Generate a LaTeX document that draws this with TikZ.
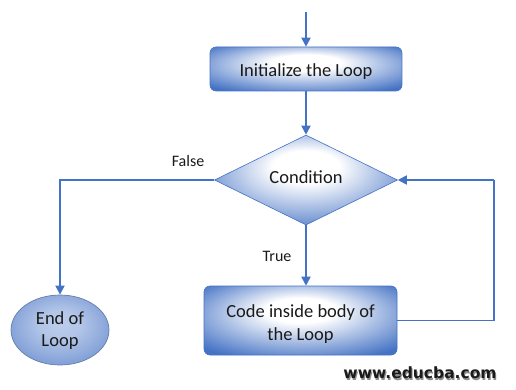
\documentclass[tikz,border=0pt]{standalone}
\usepackage{fontspec}
\setmainfont{Carlito}
\newfontfamily\webfont{DejaVu Sans}
\usetikzlibrary{shapes.geometric,arrows.meta}
\definecolor{eblue}{HTML}{4472C4}
\definecolor{lineblue}{HTML}{4472C4}
\definecolor{ellin}{HTML}{BCCDEB}
\definecolor{ellout}{HTML}{7E9DD6}
\definecolor{txt}{HTML}{1A1A1A}
\pgfdeclareradialshading{boxshade}{\pgfpoint{0bp}{9bp}}{color(0bp)=(white); color(9bp)=(white); color(34bp)=(eblue); color(50bp)=(eblue)}
\pgfdeclareradialshading{ellshade}{\pgfpoint{0bp}{5bp}}{color(0bp)=(ellin); color(10bp)=(ellin!85!ellout); color(28bp)=(ellout); color(50bp)=(ellout)}
\newcommand{\shiftv}[2]{\raisebox{#1}[\height][\depth]{#2}}
\newcommand{\twolines}[2]{\begin{tabular}{@{}c@{}}#1\\#2\end{tabular}}
\tikzset{
  flowbox/.style={rectangle, rounded corners=6pt, shading=boxshade, draw=eblue, line width=0.6pt, inner sep=0pt, text=txt, font=\fontsize{18.5}{22.5}\selectfont, align=center},
  decide/.style={diamond, shading=boxshade, draw=eblue, line width=0.6pt, inner sep=0pt, text=txt, font=\fontsize{18.5}{22.5}\selectfont, minimum width=183pt, minimum height=90pt},
  endnode/.style={ellipse, shading=ellshade, draw=ellout!80!black, line width=0.7pt, inner sep=0pt, text=txt, font=\fontsize{18.5}{22}\selectfont, align=center, minimum width=98pt, minimum height=70pt},
  conn/.style={draw=lineblue, line width=1.8pt, -{Triangle[width=9pt,length=9pt]}},
  plain/.style={draw=lineblue, line width=1.8pt},
  lbl/.style={text=txt, font=\fontsize{16}{19}\selectfont, inner sep=0pt}
}
\begin{document}
\begin{tikzpicture}[x=1pt,y=-1pt]
\useasboundingbox (0,0) rectangle (516,390);
\node[flowbox, minimum width=192pt, minimum height=44pt] (init) at (306,69) {\shiftv{-3pt}{Initialize the Loop}};
\node[decide] (cond) at (306,180) {\shiftv{3pt}{Condition}};
\node[flowbox, minimum width=193pt, minimum height=69pt] (code) at (300.5,320.5) {\shiftv{-4pt}{\twolines{Code inside body of}{the Loop}}};
\node[endnode] (end) at (60,330) {\shiftv{-1pt}{\twolines{End of}{Loop}}};
\coordinate (start) at (306,12);
\coordinate (rt) at (494,180);
\draw[conn] (start) -- (init.north);
\draw[conn] (init.south) -- (cond.north);
\draw[conn] (cond.south) -- (cond.south |- code.north);
\draw[conn] (cond.west) -| (end.north);
\draw[plain] (code.east) -| (rt);
\draw[conn] (rt) -- (cond.east);
\node[lbl] (lfalse) at (188,161) {False};
\node[lbl] (ltrue) at (277,256) {True};
\node[font=\webfont\bfseries\fontsize{15.5}{18}\selectfont, text=black!45, inner sep=0pt] (webs) at (421,374.5) {www.educba.com};
\node[font=\webfont\bfseries\fontsize{15.5}{18}\selectfont, text=txt, inner sep=0pt] (web) at (420,373) {www.educba.com};
\end{tikzpicture}
\end{document}
